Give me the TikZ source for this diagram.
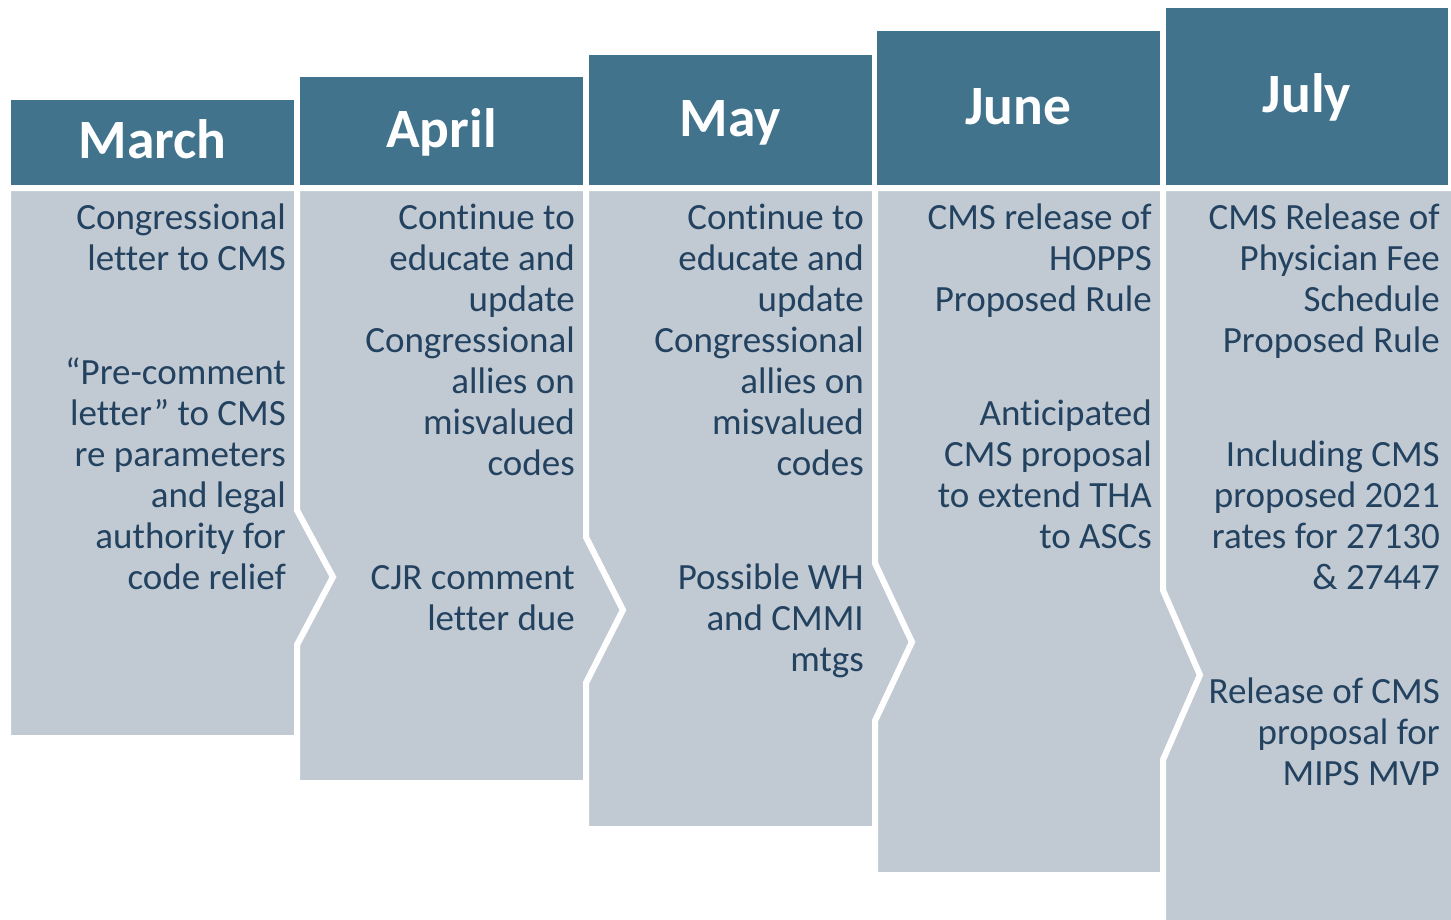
\documentclass[tikz,border=0pt]{standalone}
\usepackage{fontspec}
\setmainfont[Ligatures=NoCommon]{Carlito}
\definecolor{hdr}{HTML}{41738C}
\definecolor{bodyfill}{HTML}{C1CAD3}
\definecolor{txt}{HTML}{234260}
\begin{document}
\begin{tikzpicture}[x=1pt,y=-1pt,
  header/.style={fill=hdr},
  panel/.style={fill=bodyfill,draw=white,line width=6pt,line join=miter},
  title/.style={font=\fontsize{55.5}{60}\selectfont\bfseries,text=white,anchor=base,inner sep=0pt},
  body/.style={font=\fontsize{37}{41}\selectfont,text=txt,align=right,anchor=north east,inner sep=0pt}]
\useasboundingbox (0,0) rectangle (1451,919);
% headers
\fill[header] (11,100) rectangle (294,185);
\fill[header] (300,77) rectangle (583,185);
\fill[header] (589,55) rectangle (872,185);
\fill[header] (877,31) rectangle (1160,185);
\fill[header] (1166,8) rectangle (1448,185);
% panels
\draw[panel] (8,188) -- (297,188) -- (297,510) -- (333,577) -- (297,645) -- (297,738) -- (8,738) -- cycle;
\draw[panel] (297,188) -- (586,188) -- (586,537) -- (623,610) -- (586,683) -- (586,783) -- (297,783) -- (297,645) -- (333,577) -- (297,510) -- cycle;
\draw[panel] (586,188) -- (875,188) -- (875,563) -- (912,642) -- (875,721) -- (875,829) -- (586,829) -- (586,683) -- (623,610) -- (586,537) -- cycle;
\draw[panel] (875,188) -- (1163,188) -- (1163,590) -- (1200,675) -- (1163,760) -- (1163,875) -- (875,875) -- (875,721) -- (912,642) -- (875,563) -- cycle;
\draw[panel] (1163,188) -- (1454,188) -- (1454,925) -- (1163,925) -- (1163,760) -- (1200,675) -- (1163,590) -- cycle;
% titles
\node[title] (tmar) at (152.5,158) {March};
\node[title] (tapr) at (441.5,147) {April};
\node[title] (tmay) at (730.5,136) {May};
\node[title] (tjun) at (1018.5,124) {June};
\node[title] (tjul) at (1307,112) {July};
% body texts
\node[body] (bmar) at (286,201) {\rule{0pt}{28pt}Congressional\\letter to CMS\\[73pt]“Pre-comment\\letter” to CMS\\re parameters\\and legal\\authority for\\code relief};
\node[body] (bapr) at (575,201) {\rule{0pt}{28pt}Continue to\\educate and\\update\\Congressional\\allies on\\misvalued\\codes\\[73pt]CJR comment\\letter due};
\node[body] (bmay) at (864,201) {\rule{0pt}{28pt}Continue to\\educate and\\update\\Congressional\\allies on\\misvalued\\codes\\[73pt]Possible WH\\and CMMI\\mtgs};
\node[body] (bjun) at (1152,201) {\rule{0pt}{28pt}CMS release of\\HOPPS\\Proposed Rule\\[73pt]Anticipated\\CMS proposal\\to extend THA\\to ASCs};
\node[body] (bjul) at (1440,201) {\rule{0pt}{28pt}CMS Release of\\Physician Fee\\Schedule\\Proposed Rule\\[73pt]Including CMS\\proposed 2021\\rates for 27130\\\& 27447\\[73pt]Release of CMS\\proposal for\\MIPS MVP};
\end{tikzpicture}
\end{document}
